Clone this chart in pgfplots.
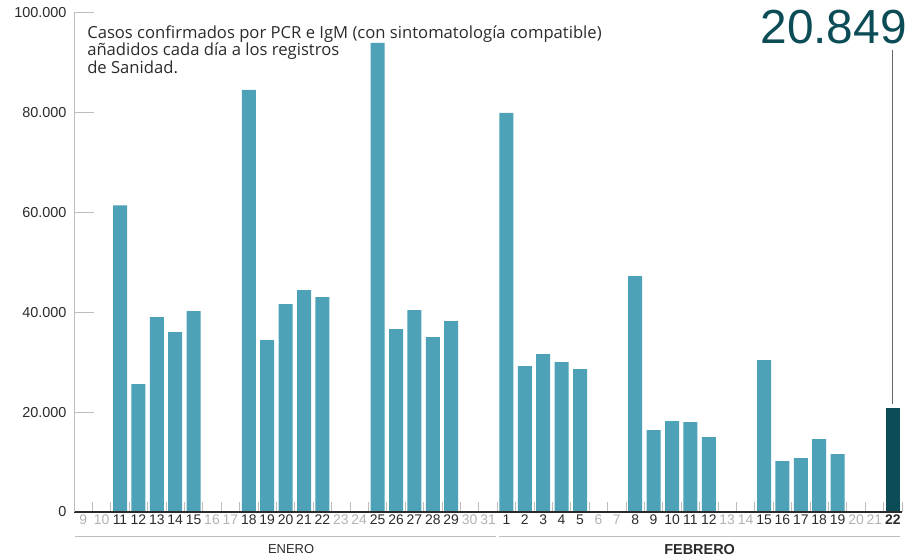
\documentclass[border=0pt]{standalone}
\usepackage{pgfplots}
\pgfplotsset{compat=1.18}
\usepackage{fontspec}
\setmainfont{Liberation Sans}
\newfontfamily\notefont{Open Sans}
\definecolor{barc}{HTML}{4DA2B7}
\definecolor{darkc}{HTML}{0B4C57}
\definecolor{lg}{HTML}{B3B3B3}
\definecolor{axg}{HTML}{BDBDBD}
\definecolor{txt}{HTML}{2B2B2B}
\begin{document}
\begin{tikzpicture}[x=1bp,y=1bp]
\useasboundingbox (0,0) rectangle (909,556);
\begin{axis}[
  at={(74bp,44bp)}, anchor=south west,
  scale only axis, width=828bp, height=499.5bp,
  xmin=-0.5, xmax=44.5, ymin=0, ymax=100000,
  axis x line*=bottom, axis y line*=left,
  x axis line style={txt, line width=2bp},
  y axis line style={axg, line width=1bp},
  axis on top, clip=false,
  tick align=inside,
  ytick={0,20000,40000,60000,80000,100000},
  scaled y ticks=false,
  yticklabel style={xshift=-4bp, text=txt, font=\fontsize{14.5}{14.5}\selectfont, /pgf/number format/.cd, fixed, 1000 sep={.}, assume math mode=true},
  major tick length=20bp,
  every major y tick/.style={axg, line width=1bp},
  xtick={0,...,44},
  every major x tick/.style={draw=none},
  minor xtick={-0.5,0.5,...,44.5},
  minor tick length=10bp,
  every minor x tick/.style={axg, line width=1bp},
  xticklabel style={text=txt, font=\fontsize{14}{14}\selectfont, inner xsep=0pt, yshift=1bp},
  xticklabels={{\textcolor{lg}{9}},{\textcolor{lg}{10}},11,12,13,14,15,{\textcolor{lg}{16}},{\textcolor{lg}{17}},18,19,20,21,22,{\textcolor{lg}{23}},{\textcolor{lg}{24}},25,26,27,28,29,{\textcolor{lg}{30}},{\textcolor{lg}{31}},1,2,3,4,5,{\textcolor{lg}{6}},{\textcolor{lg}{7}},8,9,10,11,12,{\textcolor{lg}{13}},{\textcolor{lg}{14}},15,16,17,18,19,{\textcolor{lg}{20}},{\textcolor{lg}{21}},{\bfseries 22}},
]
\addplot[ybar, bar width=14bp, bar shift=0pt, fill=barc, draw=none] coordinates {
(2,61400) (3,25600) (4,39000) (5,36000) (6,40200)
(9,84500) (10,34400) (11,41600) (12,44400) (13,43000)
(16,93900) (17,36600) (18,40400) (19,35000) (20,38200)
(23,79900) (24,29200) (25,31600) (26,30000) (27,28600)
(30,47200) (31,16400) (32,18200) (33,18000) (34,15000)
(37,30400) (38,10200) (39,10800) (40,14600) (41,11600)
};
\addplot[ybar, bar width=14bp, bar shift=0pt, fill=darkc, draw=none] coordinates {(44,20849)};
\draw[black!60, line width=1.2bp] (axis cs:44,92500) -- (axis cs:44,21600);
\node[anchor=north east, inner sep=0pt, text=darkc, font=\fontsize{48}{48}\selectfont] at (axis cs:44.77,100500) {20.849};
\node[anchor=north west, align=left, inner sep=0pt, text=txt, font=\notefont\fontsize{16.7}{17.5}\selectfont] at (axis cs:0.21,97400) {Casos confirmados por PCR e IgM (con sintomatología compatible)\\añadidos cada día a los registros\\de Sanidad.};
\draw[axg, line width=1bp] (axis cs:-0.45,-5005) -- (axis cs:22.41,-5005);
\draw[axg, line width=1bp] (axis cs:22.6,-5005) -- (axis cs:44.4,-5005);
\node[text=txt, font=\fontsize{13}{13}\selectfont, inner sep=0pt] at (axis cs:11.3,-7450) {ENERO};
\node[text=txt, font=\fontsize{14.5}{14.5}\selectfont\bfseries, inner sep=0pt] at (axis cs:33.5,-7450) {FEBRERO};
\end{axis}
\end{tikzpicture}
\end{document}
